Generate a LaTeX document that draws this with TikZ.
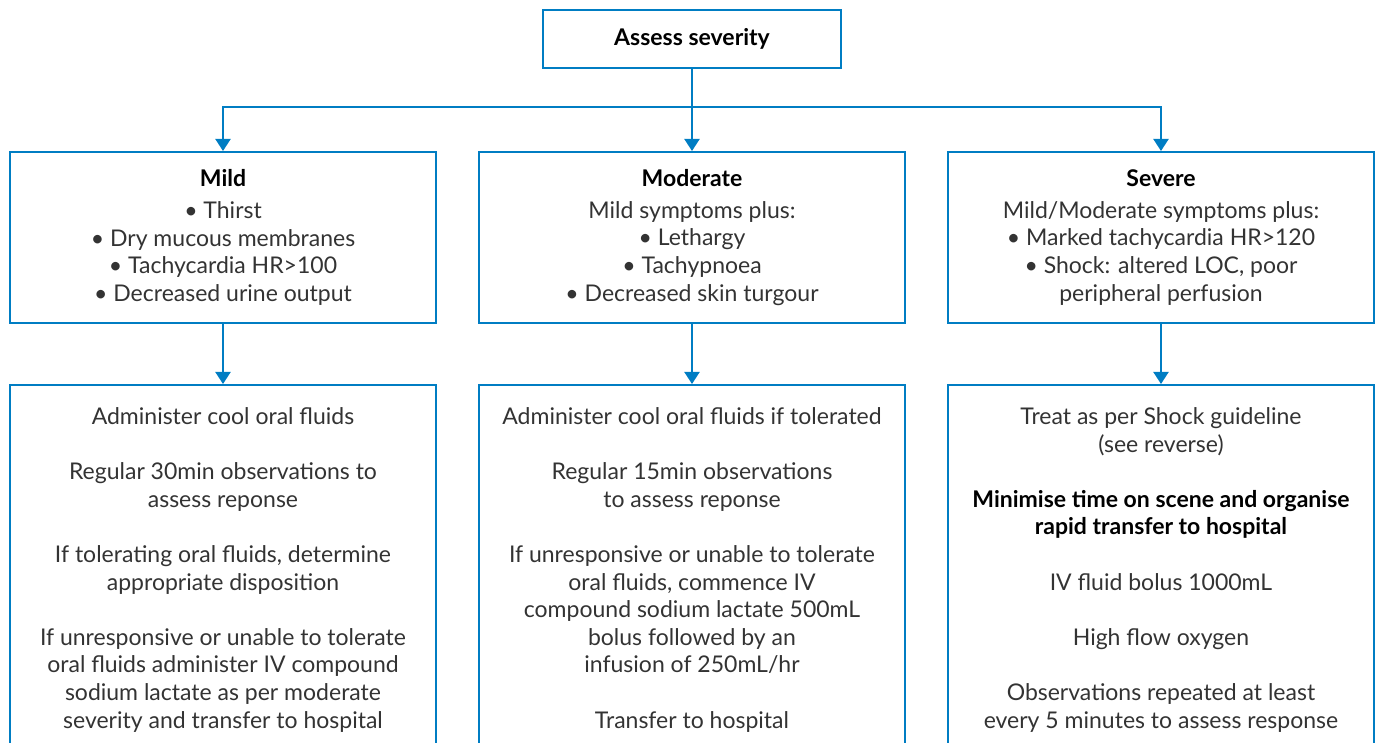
\documentclass[tikz,border=0pt]{standalone}
\usepackage{fontspec}
\setmainfont{Lato}
\usetikzlibrary{arrows.meta,positioning}

\definecolor{flowblue}{RGB}{0,125,195}
\definecolor{bodygrey}{RGB}{51,51,51}
\newcommand{\flowfont}{\fontsize{11.5}{13.8}\selectfont}

\tikzset{
	box/.style={draw=flowblue, line width=1pt, rectangle, minimum width=213pt, inner sep=0pt},
	sign/.style={box, minimum height=85.5pt, align=center, text=bodygrey, font=\flowfont},
	treat/.style={box, minimum height=250pt, anchor=north},
	txt/.style={align=center, text=bodygrey, font=\flowfont, anchor=base, inner sep=0pt},
	flow/.style={draw=flowblue, line width=1pt, -{Triangle[width=7.5pt,length=6pt]}},
}

\begin{document}
\begin{tikzpicture}[x=0.5pt,y=-0.5pt]
		\useasboundingbox (0,0) rectangle (1378,743);
		\clip (0,0) rectangle (1378,743);
		
		% top
		\node[box, minimum width=149pt, minimum height=29pt, font=\flowfont\bfseries] (assess) at (692,39) {Assess severity};
		\coordinate (split) at (692,107);
		
		% signs
		\node[sign] (mild) at (223,237.5) {\textcolor{black}{\textbf{Mild}}\\[2pt]
			• Thirst\\ • Dry mucous membranes\\ • Tachycardia HR>100\\ • Decreased urine output};
		\node[sign] (moderate) at (692,237.5) {\textcolor{black}{\textbf{Moderate}}\\[2pt]
			Mild symptoms plus:\\ • Lethargy\\ • Tachypnoea\\ • Decreased skin turgour};
		\node[sign] (severe) at (1161,237.5) {\textcolor{black}{\textbf{Severe}}\\[2pt]
			Mild/Moderate symptoms plus:\\ • Marked tachycardia HR>120\\ • Shock: altered LOC, poor\\ peripheral perfusion};
		
		\draw[flow] (assess) -- (moderate);
		\draw[flow] (split) -| (mild);
		\draw[flow] (split) -| (severe);
		
		% treatment (text set from its last line)
		\node[treat] (mildtreat) at (223,384) {};
		\node[treat] (moderatetreat) at (692,384) {};
		\node[treat] (severetreat) at (1161,384) {};
		
		\draw[flow] (mild) -- (mildtreat);
		\draw[flow] (moderate) -- (moderatetreat);
		\draw[flow] (severe) -- (severetreat);
		
		\node[txt] (mildtxt) at (223,728) {Administer cool oral fluids\\[13.8pt]
			Regular 30min observations to\\ assess reponse\\[13.8pt]
			If tolerating oral fluids, determine\\ appropriate disposition\\[13.8pt]
			If unresponsive or unable to tolerate\\ oral fluids administer IV compound\\ sodium lactate as per moderate\\ severity and transfer to hospital};
		\node[txt] (moderatetxt) at (692,728) {Administer cool oral fluids if tolerated\\[13.8pt]
			Regular 15min observations\\ to assess reponse\\[13.8pt]
			If unresponsive or unable to tolerate\\ oral fluids, commence IV\\ compound sodium lactate 500mL\\ bolus followed by an\\ infusion of 250mL/hr\\[13.8pt]
			Transfer to hospital};
		\node[txt] (severetxt) at (1161,728) {Treat as per Shock guideline\\ (see reverse)\\[13.8pt]
			\textcolor{black}{\textbf{Minimise time on scene and organise}}\\ \textcolor{black}{\textbf{rapid transfer to hospital}}\\[13.8pt]
			IV fluid bolus 1000mL\\[13.8pt]
			High flow oxygen\\[13.8pt]
			Observations repeated at least\\ every 5 minutes to assess response};
	\end{tikzpicture}
\end{document}
